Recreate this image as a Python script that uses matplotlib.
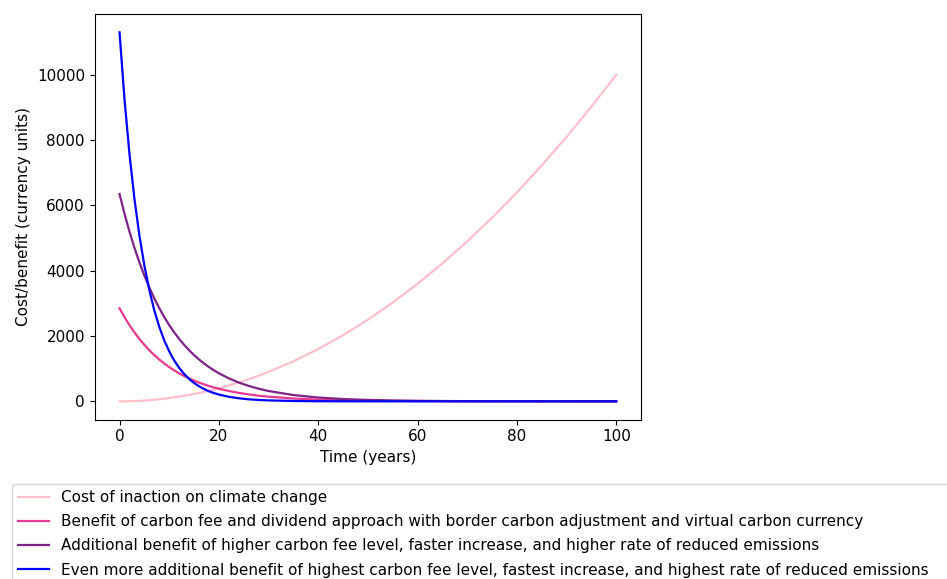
import numpy as np
import matplotlib
matplotlib.use('Agg')
import matplotlib.pyplot as plt

# time grid (years) and values
years = [0, 1, 2, 3, 4, 5, 6, 7, 8, 9, 10, 11, 12, 13, 14, 15, 16, 17, 18, 19, 20,
         22, 24, 26, 28, 30, 35, 40, 45, 50, 55, 60, 65, 70, 75, 80, 85, 90, 95, 100]

cost_inaction = [0, 1, 4, 9, 16, 25, 36, 49, 64, 81, 100, 121, 144, 169, 196, 225, 256, 289, 324, 361, 400,
                 484, 576, 676, 784, 900, 1225, 1600, 2025, 2500, 3025, 3600, 4225, 4900, 5625, 6400,
                 7225, 8100, 9025, 10000]

benefit_fee = [2850, 2579, 2333, 2111, 1910, 1729, 1564, 1415, 1281, 1159, 1048, 949, 858, 777, 703, 636,
               575, 521, 471, 426, 386, 316, 258, 212, 173, 142, 86, 52, 32, 19, 12, 7, 4, 3, 2, 1, 1, 0, 0, 0]

benefit_higher = [6350, 5745, 5199, 4704, 4257, 3851, 3485, 3153, 2853, 2582, 2336, 2114, 1913, 1730, 1566,
                  1417, 1282, 1160, 1050, 950, 859, 704, 576, 472, 386, 316, 192, 116, 70, 43, 26, 16, 10,
                  6, 3, 2, 1, 1, 0, 0]

benefit_highest = [11300, 9251, 7574, 6201, 5077, 4157, 3404, 2786, 2281, 1868, 1529, 1252, 1025, 840, 687,
                   563, 461, 377, 308, 253, 207, 139, 93, 62, 42, 28, 10, 3, 1, 0, 0, 0, 0, 0, 0, 0, 0, 0, 0, 0]

labels = ['Cost of inaction on climate change',
          'Benefit of carbon fee and dividend approach with border carbon adjustment and virtual carbon currency',
          'Additional benefit of higher carbon fee level, faster increase, and higher rate of reduced emissions',
          'Even more additional benefit of highest carbon fee level, fastest increase, and highest rate of reduced emissions']

plt.rcParams['font.size'] = 11

fig = plt.figure(figsize=(9.47, 5.79), dpi=100)
ax = fig.add_axes([0.100, 0.275, 0.577, 0.701])

ax.plot(years, cost_inaction, color='pink', lw=1.6, label=labels[0])
ax.plot(years, benefit_fee, color='#e8388f', lw=1.6, label=labels[1])
ax.plot(years, benefit_higher, color='#7d2286', lw=1.6, label=labels[2])
ax.plot(years, benefit_highest, color='blue', lw=1.6, label=labels[3])

ax.set_xlabel('Time (years)')
ax.set_ylabel('Cost/benefit (currency units)')

# legend runs off the right edge of the picture, like the reference
handles, labs = ax.get_legend_handles_labels()
fig.legend(handles, labs, loc='upper left', bbox_to_anchor=(0.0127, 0.0, 1.0, 0.164), mode='expand',
           frameon=True, fontsize=11, borderaxespad=0, labelspacing=0.6)

fig.savefig('out.png', dpi=100)
